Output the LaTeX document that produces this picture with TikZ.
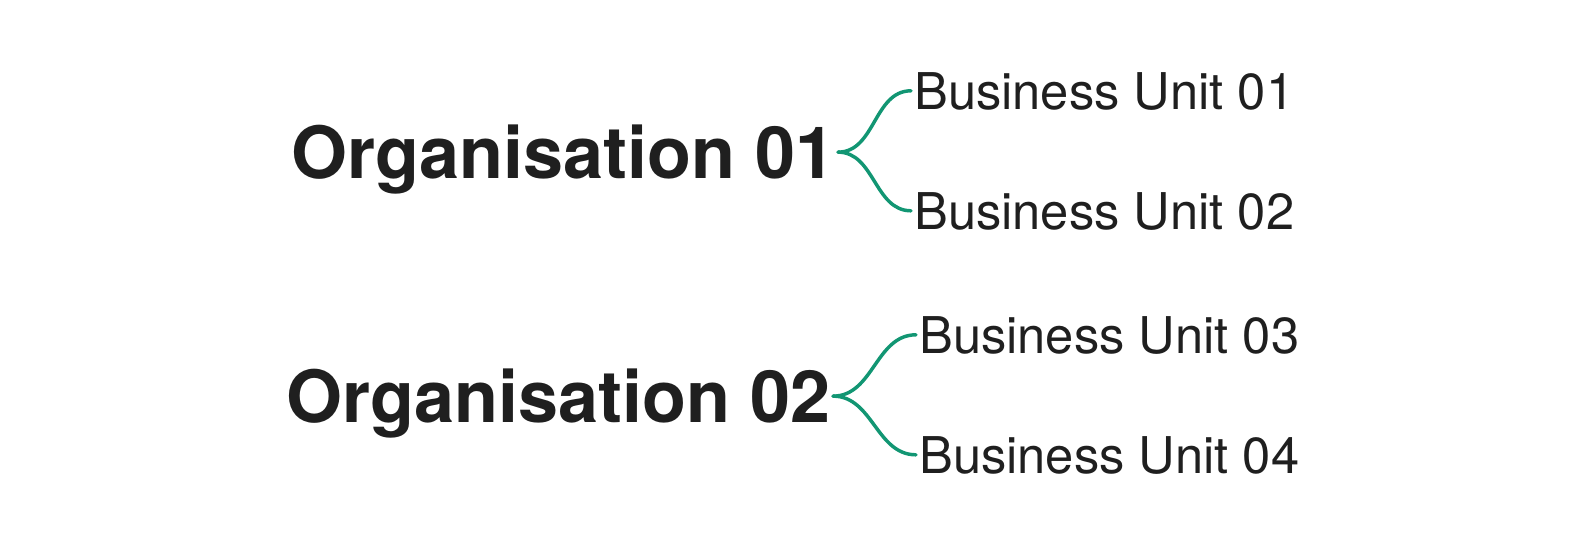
\documentclass[tikz,border=0pt]{standalone}
\usepackage{fontspec}
\setmainfont{TeX Gyre Heros}
\definecolor{forkgreen}{RGB}{18,150,115}
\definecolor{ink}{RGB}{31,31,31}
\begin{document}
\begin{tikzpicture}[x=0.75pt,y=-0.75pt,
	org/.style={anchor=base west,inner xsep=1.5pt,inner ysep=0pt,
		text depth=0pt,text height=38.8pt,text=ink,
		font=\fontsize{54}{60}\selectfont\bfseries},
	unit/.style={anchor=base west,inner xsep=2.25pt,inner ysep=0pt,
		text depth=0pt,text height=27.3pt,text=ink,
		font=\fontsize{38}{45}\selectfont},
	fork/.style={draw=forkgreen,line width=2.6pt,line cap=round,out=0,in=180}]
\useasboundingbox (0,0) rectangle (1579,547);
\node[org] (org1) at (289,178) {Organisation 01};
\node[org] (org2) at (284,422) {Organisation 02};
\node[unit] (bu1) at (911,109) {Business Unit 01};
\node[unit] (bu2) at (911,229) {Business Unit 02};
\node[unit] (bu3) at (916,353) {Business Unit 03};
\node[unit] (bu4) at (916,473) {Business Unit 04};
\draw[fork] (org1.east) to (bu1.west);
\draw[fork] (org1.east) to (bu2.west);
\draw[fork] (org2.east) to (bu3.west);
\draw[fork] (org2.east) to (bu4.west);
\end{tikzpicture}
\end{document}
